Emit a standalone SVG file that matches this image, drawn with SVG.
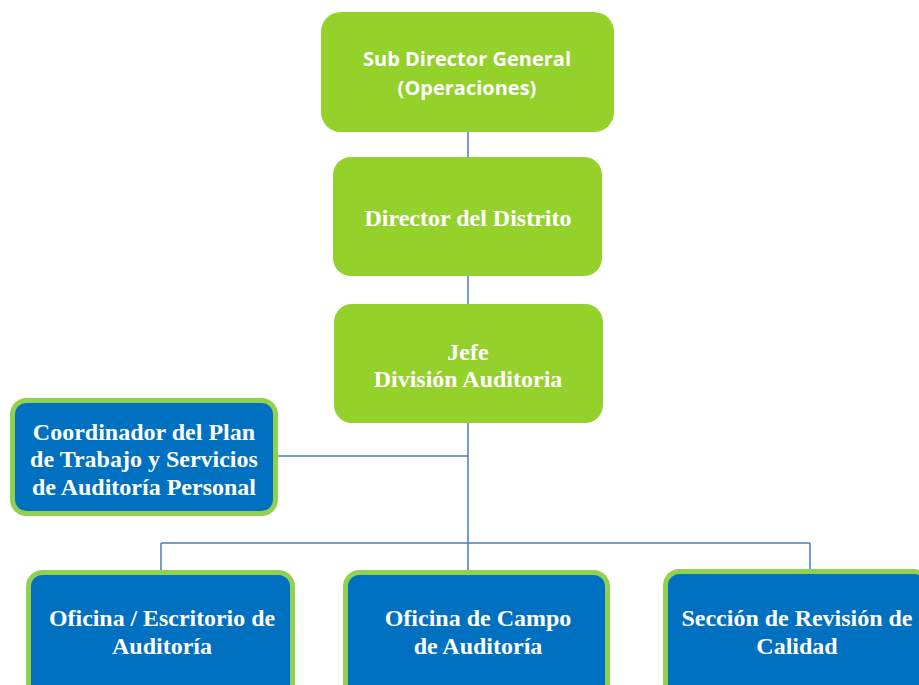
<svg xmlns="http://www.w3.org/2000/svg" width="919" height="685" viewBox="0 0 919 685">
<style>
.g{fill:#94d12b;}
.b{fill:#0070c0;stroke:#92d050;stroke-width:5;}
.t{fill:#fff;font-family:"Liberation Serif","Times New Roman",serif;font-weight:bold;font-size:24px;text-anchor:middle;}
.c{fill:#fff;font-family:"Open Sans","Liberation Sans",sans-serif;font-weight:bold;font-size:20px;text-anchor:middle;}
.bt{fill:#fff;font-family:"Liberation Serif","Times New Roman",serif;font-weight:bold;font-size:24px;text-anchor:middle;}
.l{fill:none;stroke:#4a7ebb;stroke-width:1.5;}
</style>
<rect width="919" height="685" fill="#fff"/>
<g id="connectors">
<path class="l" d="M468 132V157M468 276V304M468 423V570M278 456H468M161 543H810M161 543V570M810 543V570"/>
</g>
<g id="n1">
<rect class="g" x="321" y="12" width="293" height="120" rx="20"/>
<text class="c" x="467" y="66">Sub Director General</text>
<text class="c" x="467" y="95">(Operaciones)</text>
</g>
<g id="n2">
<rect class="g" x="333" y="157" width="269" height="119" rx="18"/>
<text class="t" x="468" y="226">Director del Distrito</text>
</g>
<g id="n3">
<rect class="g" x="334" y="304" width="269" height="119" rx="18"/>
<text class="t" x="468" y="360">Jefe</text>
<text class="t" x="468" y="387">División Auditoria</text>
</g>
<g id="n4">
<rect class="b" x="12.5" y="400.5" width="263" height="113" rx="14"/>
<text class="t" x="144" y="440">Coordinador del Plan</text>
<text class="t" x="144" y="467">de Trabajo y Servicios</text>
<text class="t" x="144" y="495">de Auditoría Personal</text>
</g>
<g id="n5">
<rect class="b" x="28.5" y="572.5" width="264" height="125" rx="14"/>
<text class="bt" x="162" y="626" textLength="226" lengthAdjust="spacingAndGlyphs">Oficina / Escritorio de</text>
<text class="bt" x="162" y="654">Auditoría</text>
</g>
<g id="n6">
<rect class="b" x="345.5" y="572.5" width="262" height="125" rx="14"/>
<text class="bt" x="478" y="626">Oficina de Campo</text>
<text class="bt" x="478" y="654">de Auditoría</text>
</g>
<g id="n7">
<rect class="b" x="665.5" y="571.5" width="262" height="125" rx="14"/>
<text class="bt" x="797" y="626" textLength="231" lengthAdjust="spacingAndGlyphs">Sección de Revisión de</text>
<text class="bt" x="797" y="654">Calidad</text>
</g>
</svg>
